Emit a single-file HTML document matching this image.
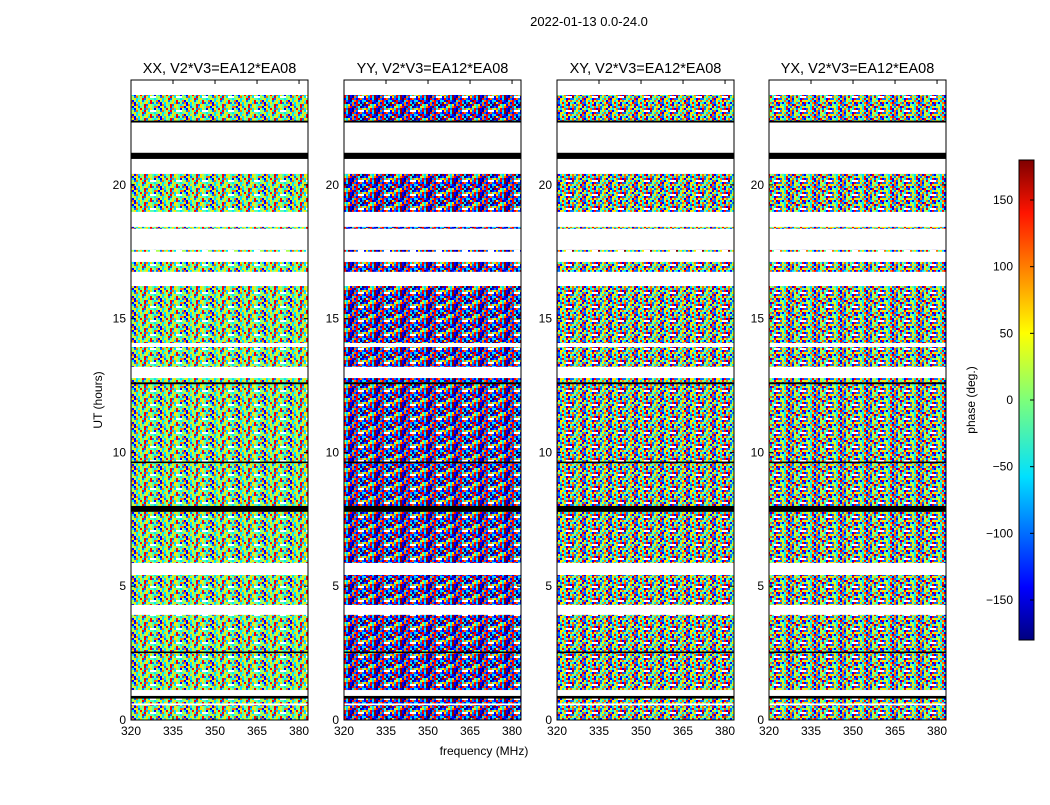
<!DOCTYPE html>
<html><head><meta charset="utf-8"><style>
body{margin:0;background:#fff;}
svg text{font-family:"Liberation Sans",sans-serif;}
</style></head><body>
<svg id="fig" width="1050" height="800" xmlns="http://www.w3.org/2000/svg">
<defs>
<linearGradient id="jet" x1="0" y1="1" x2="0" y2="0">
<stop offset="0" stop-color="#00007f"/><stop offset="0.11" stop-color="#0000ff"/><stop offset="0.34" stop-color="#00e0ff"/><stop offset="0.5" stop-color="#7dff7a"/><stop offset="0.64" stop-color="#ffff00"/><stop offset="0.89" stop-color="#ff1400"/><stop offset="1" stop-color="#7f0000"/>
</linearGradient>
</defs>
<text x="589" y="26" font-size="13" text-anchor="middle">2022-01-13 0.0-24.0</text>
<text x="484" y="755" font-size="12" text-anchor="middle">frequency (MHz)</text>
<text transform="translate(102,400) rotate(-90)" font-size="12" text-anchor="middle">UT (hours)</text>
<g id="panels"></g>
<g id="cbar"></g>
</svg>
<script>
const panelTitles = ["XX, V2*V3=EA12*EA08","YY, V2*V3=EA12*EA08","XY, V2*V3=EA12*EA08","YX, V2*V3=EA12*EA08"];
const xTicks = [320,335,350,365,380];
const yTicks = [0,5,10,15,20];
const cbTicks = [-150,-100,-50,0,50,100,150];
// data segments in UT hours [start,end]
const segStart = [0.0,0.62,1.12,4.30,5.87,7.78,11.96,13.20,14.09,16.75,17.50,18.36,18.99,22.39];
const segEnd   = [0.55,0.85,3.93,5.42,7.78,11.96,12.78,13.94,16.22,17.12,17.57,18.43,20.41,23.36];
// flagged black rows [start,end] hours
const blackStart = [0.80,7.78,20.97,22.33,12.55,2.5,9.6];
const blackEnd   = [0.90,8.00,21.20,22.40,12.62,2.56,9.66];
// per-panel tile color codes (jet palette index), 13 cols x 7 rows
const tiles = [
"4563458256443715365246485427153645638254617354826543715624583654753164852736415527463853",
"1821390821872319821037821396280127183029184361728930215637819240167382910283741628391072",
"2537481663182547417263585731468225836147527481363815724651628347382571643572819463527146",
"2638471553182647317264585631478234726185436271854721653842571836426381574253817463172584"];
const palette = ["#00008f","#0000ff","#0070ff","#00e0ff","#50ffaf","#afff50","#ffe000","#ff7000","#ff0000","#8f0000"];
const NS="http://www.w3.org/2000/svg";
const panelsX=[131,344,557,769], PW=177, TOP=80, BOT=720;
const fMin=320, fMax=383.2, tMin=0, tMax=23.92;
function mk(tag,attrs,parent){const e=document.createElementNS(NS,tag);for(const k in attrs)e.setAttribute(k,attrs[k]);parent.appendChild(e);return e;}
const yS=h=>BOT-(h-tMin)/(tMax-tMin)*(BOT-TOP);
const defs=document.querySelector('defs');
tiles.forEach((t,i)=>{
  const p=mk('pattern',{id:'tile'+i,width:26,height:14,patternUnits:'userSpaceOnUse'},defs);
  for(let k=0;k<91&&k<t.length;k++){mk('rect',{x:(k%13)*2,y:Math.floor(k/13)*2,width:2,height:2,fill:palette[+t[k]]},p);}
});
const G=document.getElementById('panels');
panelsX.forEach((x0,i)=>{
  const xS=f=>x0+(f-fMin)/(fMax-fMin)*PW;
  const g=mk('g',{},G);
  
  
  segStart.forEach((s,j)=>{
    const r=mk('rect',{x:x0,y:yS(segEnd[j]),width:PW,height:yS(s)-yS(segEnd[j]),fill:'url(#tile'+i+')'},g);
    
    
  });
  blackStart.forEach((s,j)=>{
    const r=mk('rect',{x:x0,y:yS(blackEnd[j]),width:PW,height:Math.max(1.5,yS(s)-yS(blackEnd[j])),fill:'#000'},g);
    
    
  });
  mk('rect',{x:x0,y:TOP,width:PW,height:BOT-TOP,fill:'none',stroke:'#000','stroke-width':1},g);
  const tt=mk('text',{x:x0+PW/2,y:73,'font-size':14.5,'text-anchor':'middle'},g);tt.textContent=panelTitles[i];
  
  
  xTicks.forEach(v=>{const X=xS(v);mk('line',{x1:X,x2:X,y1:BOT,y2:BOT-4,stroke:'#000'},g);mk('line',{x1:X,x2:X,y1:TOP,y2:TOP+4,stroke:'#000'},g);
    const t=mk('text',{x:X,y:BOT+15,'font-size':12,'text-anchor':'middle'},g);t.textContent=v;
    
    });
  yTicks.forEach(v=>{const Y=yS(v);mk('line',{x1:x0,x2:x0+4,y1:Y,y2:Y,stroke:'#000'},g);mk('line',{x1:x0+PW,x2:x0+PW-4,y1:Y,y2:Y,stroke:'#000'},g);
    const t=mk('text',{x:x0-5,y:Y+4,'font-size':12,'text-anchor':'end'},g);t.textContent=v;
    
    });
});
const C=document.getElementById('cbar');
const cT=160,cB=640,cX=1019,cW=15;const cS=v=>cB-(v+180)/360*(cB-cT);
mk('rect',{x:cX,y:cT,width:cW,height:cB-cT,fill:'url(#jet)',stroke:'#000'},C);
cbTicks.forEach(v=>{const Y=cS(v);mk('line',{x1:cX+cW,x2:cX+cW-4,y1:Y,y2:Y,stroke:'#000'},C);
  const t=mk('text',{x:cX-6,y:Y+4,'font-size':12,'text-anchor':'end'},C);t.textContent=(v<0?'\u2212'+(-v):v);
  
  });
const ct=mk('text',{transform:'translate(975,400) rotate(-90)','font-size':12,'text-anchor':'middle'},C);ct.textContent='phase (deg.)';


</script>
</body></html>
